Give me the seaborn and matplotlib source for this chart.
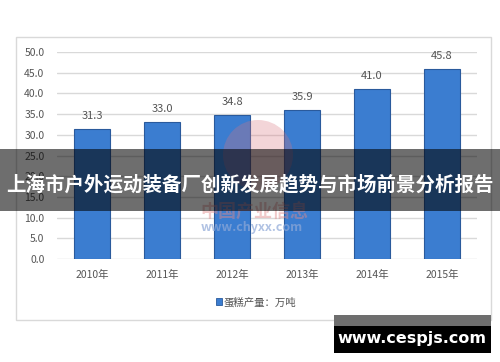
import matplotlib
matplotlib.use("Agg")
import matplotlib.pyplot as plt
from matplotlib.patches import Rectangle, Circle, Patch
import pandas as pd
import seaborn as sns

# 数据
years = ["2010年", "2011年", "2012年", "2013年", "2014年", "2015年"]
output = [31.3, 33.0, 34.8, 35.9, 41.0, 45.8]
series_name = "蛋糕产量：万吨"
banner_title = "上海市户外运动装备厂创新发展趋势与市场前景分析报告"
site_text = "www.cespjs.com"

sns.set_theme(style="white")
plt.rcParams["font.family"] = ["Noto Sans CJK SC", "DejaVu Sans"]

W, H = 500, 362
fig = plt.figure(figsize=(W / 100, H / 100), dpi=100)
fig.patch.set_facecolor("white")


def fx(px):
    return px / W


def fy(py):
    return 1 - py / H


# 图表外框
fig.patches.append(Rectangle((fx(16), fy(320)), fx(491) - fx(16), fy(37) - fy(320),
                             transform=fig.transFigure, fill=False,
                             edgecolor="#d9d9d9", lw=1, zorder=0))

ax = fig.add_axes([fx(57), fy(259), fx(477) - fx(57), fy(52) - fy(259)])
df = pd.DataFrame({"year": years, "value": output})
sns.barplot(data=df, x="year", y="value", color="#3B7DD0", width=0.51,
            edgecolor="#2A5A9C", linewidth=0.8, saturation=1, ax=ax, zorder=3)

ax.set_ylim(0, 50)
ax.set_xlim(-0.5, len(years) - 0.5)
ax.set_yticks([i * 5 for i in range(11)])
ax.set_yticklabels([f"{i * 5:.1f}" for i in range(11)])
ax.yaxis.grid(True, color="#d9d9d9", lw=1)
ax.set_axisbelow(True)
for s in ax.spines.values():
    s.set_visible(False)
ax.set_xlabel("")
ax.set_ylabel("")
ax.tick_params(axis="both", length=0, labelsize=7.5, labelcolor="#555555")
ax.tick_params(axis="y", pad=9)
ax.tick_params(axis="x", pad=8)
ax.bar_label(ax.containers[0], fmt="%.1f", padding=6, fontsize=8, color="#555555")

# 图例
fig.legend(handles=[Patch(facecolor="#3B7DD0", edgecolor="#2A5A9C", lw=0.6)],
           labels=[series_name], loc="center", bbox_to_anchor=(fx(256), fy(302)),
           frameon=False, fontsize=7.5, handlelength=0.6, handleheight=0.6,
           handletextpad=0.2, labelcolor="#555555")

# 水印
wm = Circle((258, H - 155), 35, transform=None, facecolor="#d9747e",
            edgecolor="none", alpha=0.3, zorder=4)
fig.patches.append(wm)
fig.text(fx(254), fy(212), "中国产业信息", ha="center", va="center", fontsize=13,
         fontweight="bold", color="#e08a8a", alpha=0.45, zorder=5)
fig.text(fx(252), fy(228), "www.chyxx.com", ha="center", va="center", fontsize=9,
         fontweight="bold", color="#8fa9d8", alpha=0.7, zorder=5)

# 标题横幅
fig.patches.append(Rectangle((0, fy(211)), 1, fy(149) - fy(211), transform=fig.transFigure,
                             facecolor="black", alpha=0.57, edgecolor="none", zorder=6))
fig.text(0.5, fy(185), banner_title, ha="center", va="center", fontsize=14,
         fontweight="bold", color="white", zorder=7)

# 右下角网址
fig.patches.append(Rectangle((fx(334), fy(326)), fx(491) - fx(334), fy(315) - fy(326),
                             transform=fig.transFigure, facecolor="#6e6e6e",
                             edgecolor="none", zorder=6))
fig.patches.append(Rectangle((fx(334), fy(353)), fx(491) - fx(334), fy(326) - fy(353),
                             transform=fig.transFigure, facecolor="black",
                             edgecolor="none", zorder=6))
fig.text(fx(412), fy(339), site_text, ha="center", va="center", fontsize=11.5,
         fontweight="bold", color="white", zorder=7, family="DejaVu Sans")

fig.savefig("out.png", dpi=100)
